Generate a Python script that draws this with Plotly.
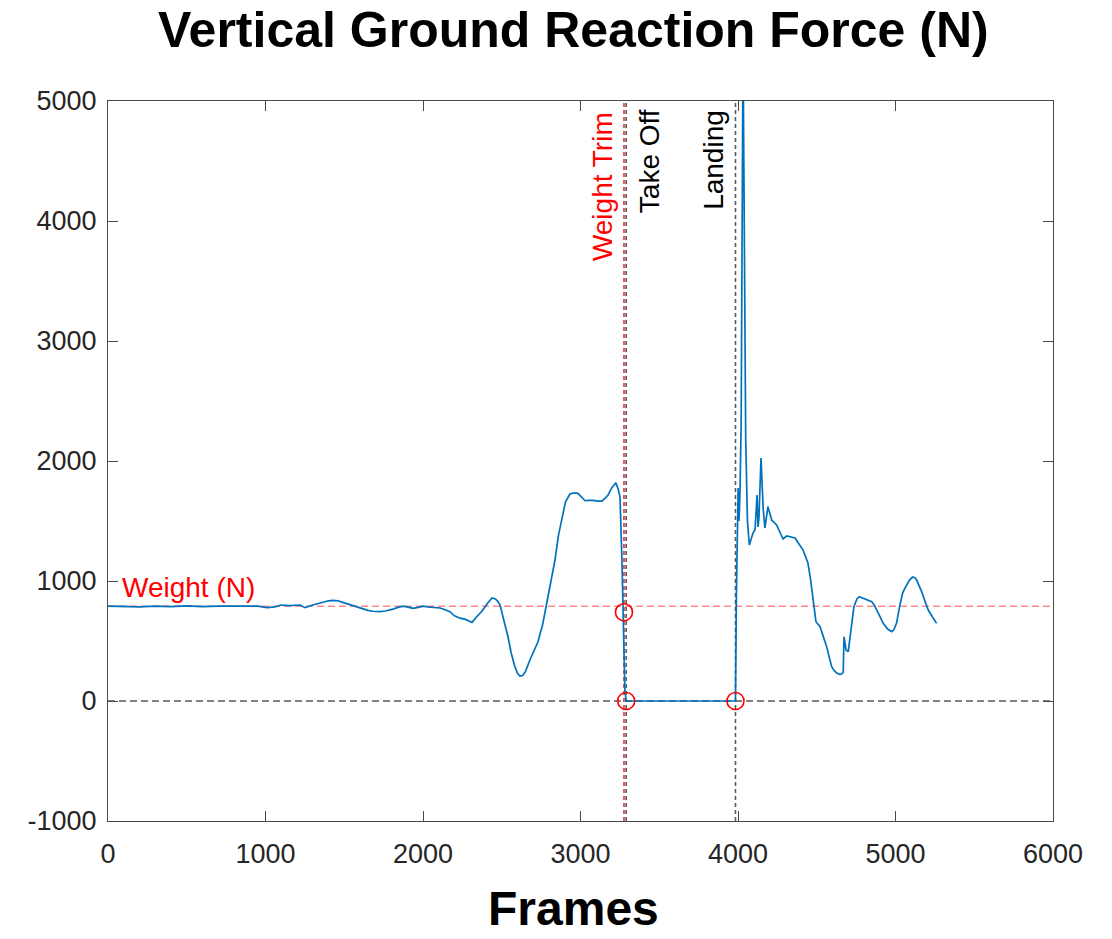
import plotly.graph_objects as go

# Vertical ground reaction force during a countermovement jump
frames = [
    0, 100, 200, 300, 400, 500, 600, 700, 800, 900, 950, 1010, 1060, 1100,
    1150, 1219, 1251, 1300, 1370, 1400, 1429, 1460, 1490, 1520, 1556, 1590,
    1619, 1650, 1680, 1727, 1760, 1780, 1810, 1840, 1873, 1905, 1937, 1970,
    2000, 2030, 2064, 2108, 2140, 2171, 2200, 2235, 2270, 2311, 2340, 2375,
    2410, 2438, 2460, 2475, 2489, 2510, 2540, 2560, 2580, 2600, 2616, 2635,
    2650, 2679, 2700, 2730, 2760, 2787, 2810, 2838, 2860, 2883, 2905, 2933,
    2960, 2984, 3005, 3029, 3050, 3079, 3110, 3136, 3160, 3175, 3200, 3225,
    3240, 3251, 3263, 3270, 3282, 3290, 3984, 3990, 3996, 4001, 4006, 4012,
    4020, 4032, 4037, 4049, 4060, 4072, 4095, 4108, 4121, 4127, 4133, 4146,
    4160, 4171, 4190, 4214, 4245, 4267, 4286, 4309, 4362, 4413, 4444, 4460,
    4476, 4495, 4521, 4545, 4563, 4580, 4595, 4610, 4627, 4645, 4658, 4668,
    4673, 4686, 4700, 4736, 4755, 4770, 4790, 4806, 4830, 4849, 4865, 4880,
    4900, 4922, 4950, 4976, 4990, 5007, 5025, 5045, 5060, 5071, 5090, 5109,
    5125, 5134, 5150, 5166, 5185, 5208, 5235, 5261,
]
force = [
    790, 788, 785, 790, 787, 792, 786, 790, 788, 792, 790, 778, 785, 800,
    795, 800, 778, 800, 828, 835, 838, 835, 822, 810, 795, 778,
    765, 755, 748, 745, 750, 755, 765, 780, 790, 782, 772, 780,
    790, 785, 780, 775, 760, 744, 710, 690, 680, 655, 700, 750,
    815, 858, 850, 830, 800, 690, 533, 400, 300, 230, 208, 215,
    245, 342, 400, 494, 640, 817, 980, 1175, 1380, 1536, 1660, 1725,
    1735, 1730, 1700, 1669, 1672, 1672, 1665, 1665, 1695, 1717, 1780, 1819,
    1760, 1700, 1175, 744, 80, 0, 0, 900, 1550, 1775, 1500, 1700,
    2300, 5450, 4500, 2175, 1500, 1300, 1400, 1425, 1717, 1450, 1525, 2025,
    1600, 1442, 1619, 1508, 1467, 1400, 1350, 1375, 1358, 1258, 1150, 1020,
    842, 661, 619, 530, 453, 360, 286, 255, 233, 222, 225, 240,
    536, 425, 411, 786, 850, 869, 860, 850, 840, 828, 800, 758,
    700, 647, 600, 578, 595, 650, 780, 900, 940, 967, 1010, 1033,
    1025, 1008, 965, 911, 840, 758, 700, 647,
]

body_weight = 790
weight_trim_frame = 3276
takeoff_frame = 3290
landing_frame = 3984

event_frames = [weight_trim_frame, takeoff_frame, landing_frame]
event_forces = [740, 0, 0]

x_ticks = [0, 1000, 2000, 3000, 4000, 5000, 6000]
y_ticks = [-1000, 0, 1000, 2000, 3000, 4000, 5000]

FONT = "Liberation Sans, Arial, sans-serif"

fig = go.Figure()

# Reference lines: zero force, body weight
fig.add_trace(go.Scatter(
    x=[0, 6000], y=[0, 0], mode="lines",
    line=dict(color="rgba(60,60,60,0.85)", width=1.6, dash="7px,4px"),
    hoverinfo="skip", showlegend=False,
))
fig.add_trace(go.Scatter(
    x=[0, 6000], y=[body_weight, body_weight], mode="lines",
    line=dict(color="rgba(255,60,60,0.6)", width=1.6, dash="7px,4px"),
    hoverinfo="skip", showlegend=False,
))

# Event markers: weight trim, take off, landing
fig.add_trace(go.Scatter(
    x=[weight_trim_frame, weight_trim_frame], y=[-1000, 5000], mode="lines",
    line=dict(color="rgba(230,40,40,0.85)", width=1.8, dash="4px,3px"),
    hoverinfo="skip", showlegend=False,
))
fig.add_trace(go.Scatter(
    x=[takeoff_frame, takeoff_frame], y=[-1000, 5000], mode="lines",
    line=dict(color="rgba(60,60,60,0.85)", width=1.6, dash="4px,3px"),
    hoverinfo="skip", showlegend=False,
))
fig.add_trace(go.Scatter(
    x=[landing_frame, landing_frame], y=[-1000, 5000], mode="lines",
    line=dict(color="rgba(60,60,60,0.85)", width=1.6, dash="4px,3px"),
    hoverinfo="skip", showlegend=False,
))

# Force curve
fig.add_trace(go.Scatter(
    x=frames, y=force, mode="lines",
    line=dict(color="#0072BD", width=1.7),
    showlegend=False,
))

# Detected event points
fig.add_trace(go.Scatter(
    x=event_frames, y=event_forces, mode="markers",
    marker=dict(symbol="circle-open", size=17, color="#ff0000",
                line=dict(color="#ff0000", width=1.6)),
    showlegend=False,
))

annotations = [
    dict(text="<b>Vertical Ground Reaction Force (N)</b>", xref="paper", yref="paper",
         x=0.493, y=1.0986, xanchor="center", yanchor="middle", showarrow=False,
         font=dict(family=FONT, size=50, color="#000000")),
    dict(text="<b>Frames</b>", xref="paper", yref="paper",
         x=0.493, y=-0.1222, xanchor="center", yanchor="middle", showarrow=False,
         font=dict(family=FONT, size=48, color="#000000")),
    dict(text="Weight (N)", x=76, y=950, xanchor="left", yanchor="middle",
         showarrow=False, font=dict(family=FONT, size=28, color="#ff0000")),
    dict(text="Weight Trim", x=3136, y=4290, textangle=-90, xanchor="center",
         yanchor="middle", showarrow=False,
         font=dict(family=FONT, size=28, color="#ff0000")),
    dict(text="Take Off", x=3436, y=4500, textangle=-90, xanchor="center",
         yanchor="middle", showarrow=False,
         font=dict(family=FONT, size=28, color="#000000")),
    dict(text="Landing", x=3848, y=4510, textangle=-90, xanchor="center",
         yanchor="middle", showarrow=False,
         font=dict(family=FONT, size=28, color="#000000")),
]

axis_common = dict(
    showgrid=False, zeroline=False, showline=True, linecolor="#4a4a4a",
    linewidth=1, mirror="ticks", ticks="inside", ticklen=10, tickwidth=1,
    tickcolor="#4a4a4a", tickfont=dict(family=FONT, size=27, color="#262626"),
)

fig.update_layout(
    width=1112, height=939,
    margin=dict(l=108, r=59, t=101, b=118),
    paper_bgcolor="white", plot_bgcolor="white",
    annotations=annotations,
    xaxis=dict(range=[0, 6000], tickvals=x_ticks,
               ticktext=[str(v) for v in x_ticks], ticklabelstandoff=9,
               **axis_common),
    yaxis=dict(range=[-1000, 5000], tickvals=y_ticks,
               ticktext=[str(v) for v in y_ticks], ticklabelstandoff=5,
               **axis_common),
)

fig.write_html("out.html")
